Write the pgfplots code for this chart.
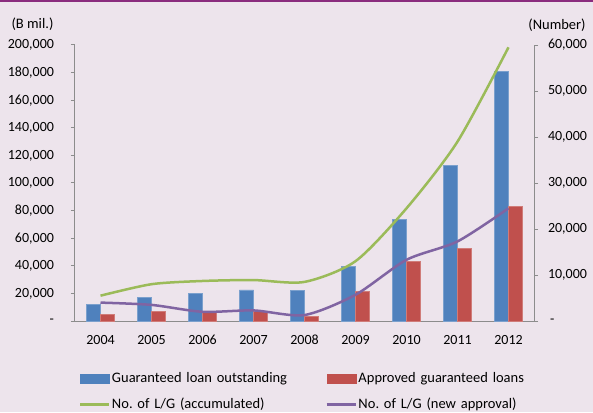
\documentclass[border=0pt]{standalone}
\usepackage{pgfplots}
\pgfplotsset{compat=1.18}
\usepackage{fontspec}
\setmainfont{Carlito}
\definecolor{bg}{HTML}{EDE4EC}
\definecolor{topbar}{HTML}{8B2C7E}
\definecolor{cblue}{HTML}{4F81BD}
\definecolor{cred}{HTML}{C0504D}
\definecolor{cgreen}{HTML}{9BBB59}
\definecolor{cpurple}{HTML}{8064A2}
\definecolor{axgray}{HTML}{8C8C8C}
\pgfplotstableread{
x year blue red green purple
0 2004 12100 4600 5500 4000
1 2005 17200 7000 8000 3500
2 2006 20000 6500 8700 2000
3 2007 22500 7000 8900 2300
4 2008 22000 3500 8500 1300
5 2009 39500 21500 13000 5700
6 2010 73500 43000 24500 13300
7 2011 113000 52500 39000 17300
8 2012 181000 83000 59500 24500
}\datatable
\begin{document}
\frenchspacing
\fontsize{14.5}{17}\selectfont
\begin{tikzpicture}
\fill[bg] (0,0) rectangle (593pt,412pt);
\fill[topbar] (0,409.5pt) rectangle (593pt,412pt);
\pgfplotsset{
  base/.style={scale only axis, width=459pt, height=276pt,
    at={(75pt,91pt)}, anchor=south west,
    xmin=-0.5, xmax=8.5,
    axis line style={axgray, line width=1pt},
    tick style={axgray, line width=1pt},
    tick align=outside, major tick length=4pt,
    scaled y ticks=false,
    ticklabel style={font=\fontsize{14}{17}\selectfont},
  }
}
\begin{axis}[base,
  axis y line*=left, axis x line*=bottom,
  ymin=0, ymax=200000,
  ytick={0,20000,...,200000},
  yticklabels={{-\hspace{9pt}},{20,000},{40,000},{60,000},{80,000},{100,000},{120,000},{140,000},{160,000},{180,000},{200,000}},
  yticklabel style={xshift=-12pt},
  xtick={0,...,8},
  xticklabels={2004,2005,2006,2007,2008,2009,2010,2011,2012},
  x tick style={draw=none},
  xticklabel style={yshift=-5pt},
  ybar, bar width=14.2pt,
]
\addplot[fill=cblue, draw=cblue!75!white, line width=0.5pt, bar shift=-7.1pt] table[x=x,y=blue]{\datatable};
\addplot[fill=cred, draw=cred!75!white, line width=0.5pt, bar shift=7.1pt] table[x=x,y=red]{\datatable};
\end{axis}
\begin{axis}[base,
  axis y line*=right, axis x line=none,
  ymin=0, ymax=60000,
  ytick={0,10000,...,60000},
  yticklabels={{\hspace{2pt}-},{10,000},{20,000},{30,000},{40,000},{50,000},{60,000}},
  yticklabel style={xshift=5pt, anchor=west},
  legend columns=2,
  legend style={at={(0.0087,-0.182)}, anchor=north west, draw=none, fill=none,
    inner sep=0pt, outer sep=0pt, row sep=10pt,
    nodes={inner sep=1.5pt, text width=212pt, align=left, font=\fontsize{14.5}{17}\selectfont}},
]
\addlegendimage{legend image code/.code={\fill[cblue] (0pt,-4.75pt) rectangle (29pt,4.75pt);}}
\addlegendentry{Guaranteed loan outstanding}
\addlegendimage{legend image code/.code={\fill[cred] (0pt,-4.75pt) rectangle (29pt,4.75pt);}}
\addlegendentry{Approved guaranteed loans}
\addplot[cgreen, line width=2.5pt, smooth, tension=0.45, no markers,
  legend image code/.code={\draw[cgreen, line width=2.5pt] (0pt,0pt)--(29pt,0pt);}] table[x=x,y=green]{\datatable};
\addlegendentry{No. of L/G (accumulated)}
\addplot[cpurple, line width=2.5pt, smooth, tension=0.45, no markers,
  legend image code/.code={\draw[cpurple, line width=2.5pt] (0pt,0pt)--(29pt,0pt);}] table[x=x,y=purple]{\datatable};
\addlegendentry{No. of L/G (new approval)}
\end{axis}
\node at (32.5pt,388pt) {(B mil.)};
\node at (557pt,387pt) {(Number)};
\pgfresetboundingbox
\path[use as bounding box] (0,0) rectangle (593pt,412pt);
\end{tikzpicture}
\end{document}
